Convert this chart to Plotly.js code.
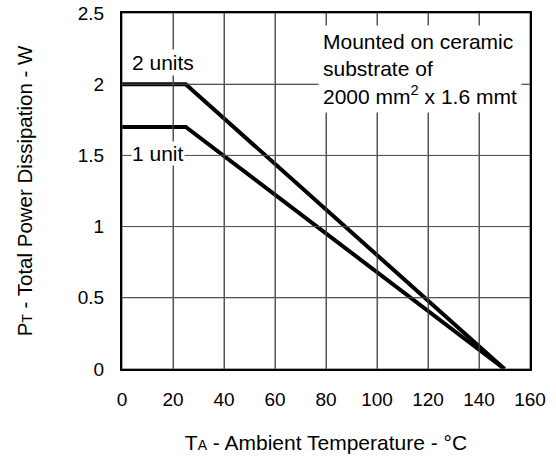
<!DOCTYPE html>
<html>
<head>
<meta charset="utf-8">
<script src="https://cdn.plot.ly/plotly-3.0.1.min.js"></script>
<style>html,body{margin:0;padding:0;background:#fff;}#chart{width:556px;height:459px;}</style>
</head>
<body>
<div id="chart"></div>
<script>
// Data
const temps = [0, 25, 150];
const twoUnits = [2.0, 2.0, 0];
const oneUnit = [1.7, 1.7, 0];
const xTicks = [0, 20, 40, 60, 80, 100, 120, 140, 160];
const yTicks = [0, 0.5, 1, 1.5, 2, 2.5];
const seriesNames = ["2 units", "1 unit"];
const noteText = "Mounted on ceramic<br>substrate of<br>2000 mm<sup>2</sup> x 1.6 mmt";

const FONT = "Liberation Sans, Arial, sans-serif";
const GRID = {color: "#555555", width: 1};

const traces = [
  {x: temps, y: twoUnits, name: seriesNames[0], mode: "lines", line: {color: "#000", width: 4}, hoverinfo: "x+y"},
  {x: temps, y: oneUnit, name: seriesNames[1], mode: "lines", line: {color: "#000", width: 4}, hoverinfo: "x+y"}
];

// Grid lines placed at the tick values through the axis scales
const gridShapes = xTicks.map(v => ({type: "line", layer: "above", xref: "x", yref: "paper", x0: v, x1: v, y0: 0, y1: 1, line: GRID}))
  .concat(yTicks.map(v => ({type: "line", layer: "above", xref: "paper", yref: "y", x0: 0, x1: 1, y0: v, y1: v, line: GRID})));

const layout = {
  width: 556, height: 459,
  margin: {l: 122, r: 26, t: 13, b: 90},
  showlegend: false,
  font: {family: FONT, size: 19, color: "#000"},
  xaxis: {
    range: [0, 160], tickvals: xTicks, ticks: "", ticklabelstandoff: 12,
    showgrid: true, gridcolor: "#555555", gridwidth: 1,
    showline: true, mirror: true, linecolor: "#000", linewidth: 2,
    zeroline: false, tickfont: {size: 19},
    title: {text: "T<span style='font-size:14px'>A</span> - Ambient Temperature - °C", font: {size: 21}, standoff: 27}
  },
  yaxis: {
    range: [0, 2.5], tickvals: yTicks, ticks: "", ticklabelstandoff: 12,
    showgrid: true, gridcolor: "#555555", gridwidth: 1,
    showline: true, mirror: true, linecolor: "#000", linewidth: 2,
    zeroline: false, tickfont: {size: 19},
    title: {text: "P<span style='font-size:14px'>T</span> - Total Power Dissipation - W", font: {size: 20.5}, standoff: 40}
  },
  shapes: gridShapes,
  annotations: [
    {x: 76.8, y: 2.105, xref: "x", yref: "y", xanchor: "left", yanchor: "middle", align: "left",
     text: noteText, showarrow: false, bgcolor: "#fff", borderpad: 4, font: {size: 21}},
    {x: 16.1, y: 2.15, xref: "x", yref: "y", text: seriesNames[0], showarrow: false,
     bgcolor: "#fff", borderpad: 1, font: {size: 21}},
    {x: 14.1, y: 1.51, xref: "x", yref: "y", text: seriesNames[1], showarrow: false,
     bgcolor: "#fff", borderpad: 0, font: {size: 21}}
  ]
};

Plotly.newPlot("chart", traces, layout, {displayModeBar: false});
</script>
</body>
</html>
